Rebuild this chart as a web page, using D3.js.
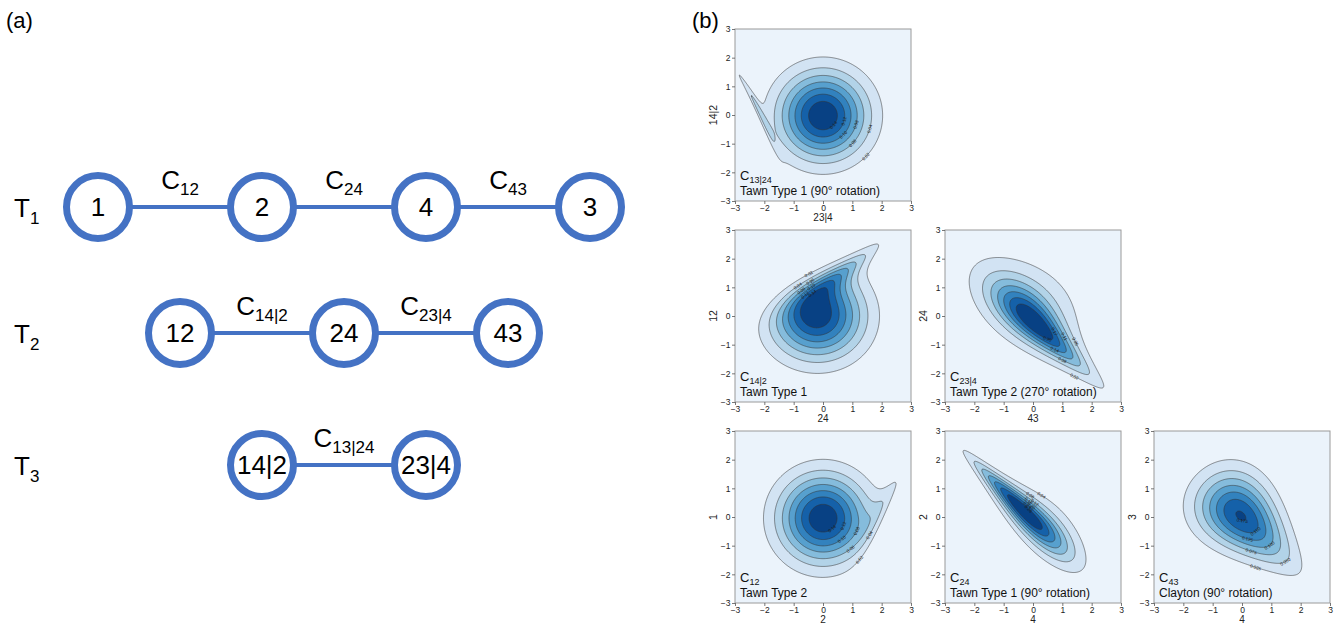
<!DOCTYPE html>
<html>
<head>
<meta charset="utf-8">
<script src="https://cdn.jsdelivr.net/npm/d3@7"></script>
<style>
  body { margin: 0; background: #fff; }
  svg { display: block; font-family: "Liberation Sans", Arial, sans-serif; }
</style>
</head>
<body>
<svg id="fig" width="1338" height="624"></svg>
<script>
// ---------------- Panel (a): vine tree structure ----------------
const treeLevelSubs = ["1", "2", "3"];
const treeNodes = [
  ["1", "2", "4", "3"],
  ["12", "24", "43"],
  ["14|2", "23|4"]
];
const treeEdgeSubs = [
  ["12", "24", "43"],
  ["14|2", "23|4"],
  ["13|24"]
];

// ---------------- Panel (b): pair-copula densities ----------------
const panelSubs     = ["13|24", "14|2", "23|4", "12", "24", "43"];
const panelFamilies = ["Tawn Type 1 (90° rotation)", "Tawn Type 1", "Tawn Type 2 (270° rotation)",
                       "Tawn Type 2", "Tawn Type 1 (90° rotation)", "Clayton (90° rotation)"];
const panelRow      = [0, 1, 1, 2, 2, 2];
const panelCol      = [0, 0, 1, 0, 1, 2];
const xAxisLabels   = ["23|4", "24", "43", "2", "4", "4"];
const yAxisLabels   = ["14|2", "12", "24", "1", "2", "3"];
const copulaFamily  = ["tawn", "tawn", "tawn", "tawn", "tawn", "clayton"];
const copulaTheta   = [7, 2.5, 2.2, 3, 3, 0.7];
const copulaPsi1    = [1, 0.2, 0.75, 1, 1, 0];
const copulaPsi2    = [0.025, 1, 1, 0.05, 0.85, 0];
const copulaRotation = [90, 0, 270, 0, 90, 90];
const contourLevels = [
  [0.02, 0.04, 0.06, 0.08, 0.10, 0.12, 0.14],
  [0.02, 0.04, 0.06, 0.08, 0.10, 0.12, 0.14],
  [0.02, 0.05, 0.08, 0.11, 0.14, 0.17, 0.20],
  [0.02, 0.04, 0.06, 0.08, 0.10, 0.12, 0.14],
  [0.04, 0.08, 0.12, 0.16, 0.20, 0.24, 0.28],
  [0.025, 0.050, 0.075, 0.100, 0.125, 0.150, 0.175]
];
// direction (degrees, from the density peak) along which contour labels sit
const labelAngle = [-30, 115, -40, -35, 60, -60];
const tickValues = [-3, -2, -1, 0, 1, 2, 3];

// ---------------- helpers ----------------
const svg = d3.select("#fig");
const BLUE = "#4472c4";

function erfc(z) {
  const a = Math.abs(z), t = 1 / (1 + 0.5 * a);
  const r = t * Math.exp(-a * a - 1.26551223 + t * (1.00002368 + t * (0.37409196 + t * (0.09678418 +
    t * (-0.18628806 + t * (0.27886807 + t * (-1.13520398 + t * (1.48851587 +
    t * (-0.82215223 + t * 0.17087277)))))))));
  return z >= 0 ? r : 2 - r;
}
const Phi = x => 0.5 * erfc(-x / Math.SQRT2);

function tawnCdf(u, v, th, p1, p2) {
  const lu = Math.log(u), lv = Math.log(v), s = lu + lv, t = lv / s;
  const A = (1 - p1) * (1 - t) + (1 - p2) * t +
    Math.pow(Math.pow(p1 * (1 - t), th) + Math.pow(p2 * t, th), 1 / th);
  return Math.exp(s * A);
}
function claytonCdf(u, v, th) {
  return Math.pow(Math.pow(u, -th) + Math.pow(v, -th) - 1, -1 / th);
}

const N = 240, LO = -3, HI = 3, STEP = (HI - LO) / N;

// Density on standard-normal margins: cell probability mass / cell area
function densityGrid(k) {
  const M = N + 1, G = new Float64Array(M * M);
  const P = d3.range(M).map(i => Phi(LO + i * STEP));
  for (let j = 0; j < M; j++) for (let i = 0; i < M; i++) {
    const u = P[i], v = P[j];
    G[j * M + i] = copulaFamily[k] === "clayton"
      ? claytonCdf(u, v, copulaTheta[k])
      : tawnCdf(u, v, copulaTheta[k], copulaPsi1[k], copulaPsi2[k]);
  }
  const f0 = new Float64Array(N * N);
  for (let j = 0; j < N; j++) for (let i = 0; i < N; i++) {
    f0[j * N + i] = (G[(j + 1) * M + i + 1] - G[(j + 1) * M + i] - G[j * M + i + 1] + G[j * M + i]) / (STEP * STEP);
  }
  const rot = copulaRotation[k], f = new Float64Array(N * N);
  for (let j = 0; j < N; j++) for (let i = 0; i < N; i++) {
    const si = (rot === 90 || rot === 180) ? N - 1 - i : i;
    const sj = (rot === 270 || rot === 180) ? N - 1 - j : j;
    f[j * N + i] = f0[sj * N + si];
  }
  return f;
}

// matplotlib "Blues"
const bluesStops = ["#f7fbff", "#deebf7", "#c6dbef", "#9ecae1", "#6baed6", "#4292c6", "#2171b5", "#08519c", "#08306b"];
const blues = d3.scaleLinear().domain(d3.range(9).map(i => i / 8)).range(bluesStops).interpolate(d3.interpolateRgb);

// ---------------- draw panel (a) ----------------
svg.append("text").attr("x", 6).attr("y", 28).attr("font-size", 22).text("(a)");
svg.append("text").attr("x", 692).attr("y", 28).attr("font-size", 22).text("(b)");

const slotX = d3.scaleLinear().domain([0, 3]).range([98, 590]);
const rowY = d3.scaleLinear().domain([0, 1, 2]).range([207, 333, 465]);
const R = 31.5;

treeNodes.forEach((nodes, r) => {
  const off = r * 0.5;
  const y = rowY(r);
  const tl = svg.append("text").attr("x", 14).attr("y", y + 10).attr("font-size", 26);
  tl.append("tspan").text("T");
  tl.append("tspan").attr("font-size", 17).attr("dy", 7).text(treeLevelSubs[r]);
  treeEdgeSubs[r].forEach((sub, e) => {
    const x1 = slotX(e + off), x2 = slotX(e + 1 + off);
    svg.append("line").attr("x1", x1 + R).attr("x2", x2 - R).attr("y1", y).attr("y2", y)
      .attr("stroke", BLUE).attr("stroke-width", 4);
    const t = svg.append("text").attr("x", (x1 + x2) / 2).attr("y", y - 18)
      .attr("text-anchor", "middle").attr("font-size", 26);
    t.append("tspan").text("C");
    t.append("tspan").attr("font-size", 17).attr("dy", 6).text(sub);
  });
  nodes.forEach((lab, i) => {
    const x = slotX(i + off);
    svg.append("circle").attr("cx", x).attr("cy", y).attr("r", R)
      .attr("fill", "#fff").attr("stroke", BLUE).attr("stroke-width", 7);
    svg.append("text").attr("x", x).attr("y", y + 9).attr("text-anchor", "middle")
      .attr("font-size", 26).text(lab);
  });
});

// ---------------- draw panel (b) ----------------
const colX = [735, 945, 1154], rowTop = [29, 230, 431];
const PW = 176, PH = 172;
const fmtTick = d3.format("d");

panelSubs.forEach((sub, k) => {
  const x0 = colX[panelCol[k]], y0 = rowTop[panelRow[k]];
  const g = svg.append("g").attr("transform", `translate(${x0},${y0})`);
  const sx = d3.scaleLinear().domain([LO, HI]).range([0, PW]);
  const sy = d3.scaleLinear().domain([LO, HI]).range([PH, 0]);
  const gx = v => sx(LO + v * STEP), gy = v => sy(LO + v * STEP);

  const clipId = "clip" + k;
  g.append("clipPath").attr("id", clipId).append("rect").attr("width", PW).attr("height", PH);
  const plot = g.append("g").attr("clip-path", `url(#${clipId})`);

  const levels = contourLevels[k];
  const nb = levels.length + 1;
  const bandColor = i => blues((i + 0.5) / nb);

  plot.append("rect").attr("width", PW).attr("height", PH).attr("fill", bandColor(0));

  const values = densityGrid(k);
  const polys = d3.contours().size([N, N]).thresholds(levels)(values);
  const proj = d3.geoTransform({
    point(px, py) { this.stream.point(gx(px), gy(py)); }
  });
  const path = d3.geoPath(proj);

  plot.selectAll("path.band").data(polys).join("path")
    .attr("class", "band")
    .attr("d", path)
    .attr("fill", (d, i) => bandColor(i + 1))
    .attr("stroke", "#333").attr("stroke-width", 0.55);

  // contour labels: one per level, on the ring point farthest along labelAngle from the peak
  const peak = d3.maxIndex(values);
  const px0 = gx((peak % N) + 0.5), py0 = gy(Math.floor(peak / N) + 0.5);
  const dec = d3.max(levels, l => (String(l).split(".")[1] || "").length);
  const fmtLevel = d3.format(`.${dec}f`);
  polys.forEach((mp, li) => {
    // alternate the label side slightly so neighbouring labels do not stack
    const a = (labelAngle[k] + (li % 2 ? 14 : -14)) * Math.PI / 180, ca = Math.cos(a), sa = -Math.sin(a);
    let best = null, bestScore = -Infinity;
    mp.coordinates.forEach(poly => poly.forEach(ring => {
      ring.forEach((p, idx) => {
        const X = gx(p[0]), Y = gy(p[1]);
        if (X < 6 || X > PW - 6 || Y < 6 || Y > PH - 6) return;
        const dx = X - px0, dy = Y - py0;
        const score = dx * ca + dy * sa - Math.abs(dx * sa - dy * ca) * 2;
        if (score > bestScore) { bestScore = score; best = { ring, idx }; }
      });
    }));
    if (!best) return;
    const r = best.ring, n = r.length;
    const pa = r[(best.idx - 2 + n) % n], pb = r[(best.idx + 2) % n], pc = r[best.idx];
    let ang = Math.atan2(gy(pb[1]) - gy(pa[1]), gx(pb[0]) - gx(pa[0])) * 180 / Math.PI;
    if (ang > 90) ang -= 180;
    if (ang < -90) ang += 180;
    plot.append("text")
      .attr("transform", `translate(${gx(pc[0])},${gy(pc[1])}) rotate(${ang})`)
      .attr("text-anchor", "middle").attr("dy", "0.35em")
      .attr("font-size", 4.5).attr("fill", "#1a1a1a")
      .text(fmtLevel(levels[li]));
  });

  g.append("rect").attr("width", PW).attr("height", PH).attr("fill", "none")
    .attr("stroke", "#9a9a9a").attr("stroke-width", 1);

  const ax = g.append("g").attr("transform", `translate(0,${PH})`)
    .call(d3.axisBottom(sx).tickValues(tickValues).tickFormat(fmtTick).tickSize(3).tickPadding(1));
  const ay = g.append("g")
    .call(d3.axisLeft(sy).tickValues(tickValues).tickFormat(fmtTick).tickSize(3).tickPadding(1.5));
  [ax, ay].forEach(a => {
    a.select(".domain").remove();
    a.selectAll("line").attr("stroke", "#555").attr("stroke-width", 0.8);
    a.selectAll("text").attr("font-size", 8.5).attr("fill", "#222")
      .attr("font-family", "'Liberation Sans', Arial, sans-serif");
  });

  g.append("text").attr("x", PW / 2).attr("y", PH + 20).attr("text-anchor", "middle")
    .attr("font-size", 10).attr("fill", "#222").text(xAxisLabels[k]);
  g.append("text").attr("transform", `translate(-18,${PH / 2}) rotate(-90)`)
    .attr("text-anchor", "middle").attr("font-size", 10.5).attr("fill", "#222").text(yAxisLabels[k]);

  const c = g.append("text").attr("x", 5).attr("y", PH - 21).attr("font-size", 13).attr("fill", "#111");
  c.append("tspan").text("C");
  c.append("tspan").attr("font-size", 9).attr("dy", 3).text(sub);
  g.append("text").attr("x", 5).attr("y", PH - 6).attr("font-size", 12).attr("fill", "#111").text(panelFamilies[k]);
});
</script>
</body>
</html>
